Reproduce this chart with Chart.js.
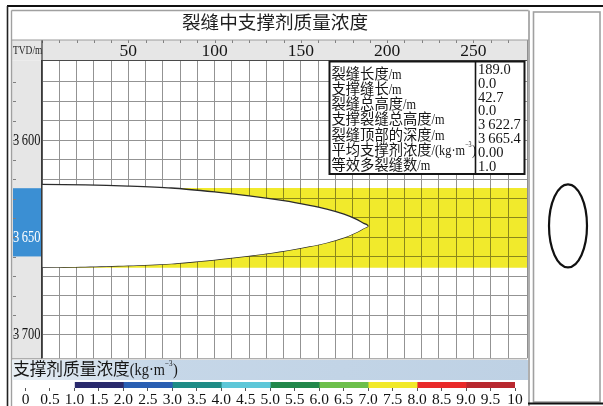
<!DOCTYPE html>
<html>
<head>
<meta charset="utf-8">
<script src="https://cdn.jsdelivr.net/npm/chart.js@4.4.0/dist/chart.umd.min.js"></script>
<style>
  html, body { margin: 0; padding: 0; background: #fff; }
  #wrap { position: relative; width: 603px; height: 406px; overflow: hidden; }
  #main { position: absolute; left: 0; top: 0; }
  #legendBar { position: absolute; left: 0; top: 360px; }
</style>
</head>
<body>
<div id="wrap">
  <canvas id="main" width="603" height="406"></canvas>
  <canvas id="legendBar" width="603" height="46"></canvas>
</div>
<script>
// ---- fracture geometry (length along fracture in m, true vertical depth in m) ----
const fractureLength = 189.0;
const fractureTop = 3622.7;
const fractureBottom = 3665.4;
const fracX     = [0, 25, 50, 75, 100, 120, 140, 155, 165, 175, 182, 186, 188.5, 189.0];
const fracUpper = [3622.7, 3623.0, 3623.6, 3624.6, 3626.6, 3628.6, 3631.1, 3633.5, 3635.4, 3638.0, 3640.6, 3642.6, 3643.6, 3644.05];
const fracLower = [3665.4, 3665.1, 3664.5, 3663.5, 3661.5, 3659.5, 3657.0, 3654.6, 3652.7, 3650.1, 3647.5, 3645.5, 3644.5, 3644.05];

// proppant concentration band (7.0-7.5 kg/m3 class)
const bandX      = [0, 281];
const bandTop    = [3624.6, 3624.6];
const bandBottom = [3665.6, 3665.6];

// perforated interval marked on the depth track
const perfInterval = [3624.7, 3659.8];

// axes
const xRange = [0, 281];
const depthRange = [3559, 3712.2];
const gridStep = 10;
const labelStep = 50;

// concentration colour scale
const colorBreaks = [0, 1, 2, 3, 4, 5, 6, 7, 8, 9, 10];
const colorFills  = ['#ffffff', '#2a2a6c', '#2a5fb2', '#1f8c86', '#5ec7d8',
                     '#22874a', '#6dbf4b', '#f1e92a', '#e92a2a', '#b8282f'];

// summary table
const fmtDepth = v => Math.floor(v / 1000) + '\u2009' + (v % 1000).toFixed(1).padStart(5, '0');
const infoLabels = ['裂缝长度/m', '支撑缝长/m', '裂缝总高度/m', '支撑裂缝总高度/m',
                    '裂缝顶部的深度/m', '平均支撑剂浓度/(kg·m⁻³)', '等效多裂缝数/m'];
const infoValues = [fractureLength.toFixed(1), '0.0', (fractureBottom - fractureTop).toFixed(1), '0.0',
                    fmtDepth(fractureTop), fmtDepth(fractureBottom), '0.00', '1.0'];

const MIX = '"Liberation Serif", "Noto Sans CJK SC", serif';
const yellowBand = '#f1ea2c';
const gridColor = '#939393';

const pts = (xs, ys) => xs.map((x, i) => ({ x: x, y: ys[i] }));
const depthLabel = v => Math.floor(v / 1000) + '\u2009' + String(v % 1000).padStart(3, '0');

function line(ctx, x1, y1, x2, y2, color, w) {
  ctx.save();
  ctx.strokeStyle = color; ctx.lineWidth = w;
  ctx.beginPath(); ctx.moveTo(x1, y1); ctx.lineTo(x2, y2); ctx.stroke();
  ctx.restore();
}

// label text: Chinese part at full width, the unit part in a narrow serif,
// with "⁻³" raised as a small exponent
function labelText(ctx, s, x, y, size) {
  const m = s.match(/^([^\/(]*)(.*)$/);
  const cjk = m[1], unit = m[2];
  ctx.font = size + 'px ' + MIX;
  ctx.fillText(cjk, x, y);
  let cx = x + ctx.measureText(cjk).width;
  const sup = unit.indexOf('⁻³');
  const parts = sup >= 0 ? [unit.slice(0, sup), '\u22123', unit.slice(sup + 2)] : [unit];
  parts.forEach((p, k) => {
    const isSup = k === 1;
    const fs = isSup ? size * 0.5 : size;
    ctx.save();
    ctx.translate(cx, isSup ? y - size * 0.4 : y);
    ctx.scale(0.86, 1);
    ctx.font = fs.toFixed(1) + 'px "Liberation Serif"';
    ctx.fillText(p, 0, 0);
    cx += ctx.measureText(p).width * 0.86 + (isSup ? 0.5 : 0);
    ctx.restore();
  });
}

const framePlugin = {
  id: 'frame',
  beforeDraw(chart) {
    const { ctx, chartArea: a, scales } = chart;
    ctx.save();
    ctx.fillStyle = '#ffffff';
    ctx.fillRect(0, 0, chart.width, chart.height);
    // axis bands
    ctx.fillStyle = '#e6e6e6';
    ctx.fillRect(12, 40, a.right - 12, a.top - 40);
    ctx.fillRect(12, a.top, a.left - 12, a.bottom - a.top);
    // perforated interval on the depth track
    const p1 = scales.y.getPixelForValue(perfInterval[0]);
    const p2 = scales.y.getPixelForValue(perfInterval[1]);
    ctx.fillStyle = '#3b8fd3';
    ctx.fillRect(13, p1, a.left - 14, p2 - p1);
    // small marks on the bands
    ctx.strokeStyle = '#808080'; ctx.lineWidth = 1;
    scales.x.ticks.forEach(t => {
      if (t.value % gridStep !== 0) return;
      const px = Math.round(scales.x.getPixelForValue(t.value)) + 0.5;
      ctx.beginPath(); ctx.moveTo(px, 40); ctx.lineTo(px, 43); ctx.stroke();
    });
    scales.y.ticks.forEach(t => {
      if (t.value % gridStep !== 0) return;
      const py = Math.round(scales.y.getPixelForValue(t.value)) + 0.5;
      ctx.beginPath(); ctx.moveTo(13, py); ctx.lineTo(16, py); ctx.stroke();
    });
    // title
    ctx.fillStyle = '#1e1e1e';
    ctx.font = '18.6px ' + MIX;
    ctx.textAlign = 'center'; ctx.textBaseline = 'middle';
    ctx.fillText('裂缝中支撑剂质量浓度', 275, 24);
    // TVD/m
    ctx.save();
    ctx.translate(13, 50.5);
    ctx.scale(0.82, 1);
    ctx.font = '11.5px "Liberation Serif"';
    ctx.textAlign = 'left';
    ctx.fillText('TVD/m', 0, 0);
    ctx.restore();
    ctx.restore();
  },
  beforeDatasetsDraw(chart) {
    // the proppant band is blended so the grid stays visible through it
    chart.ctx.globalCompositeOperation = 'multiply';
  },
  afterDatasetDraw(chart, args) {
    if (args.index === 2) chart.ctx.globalCompositeOperation = 'source-over';
  },
  afterDatasetsDraw(chart) {
    chart.ctx.globalCompositeOperation = 'source-over';
  },
  afterDraw(chart) {
    const { ctx, chartArea: a, scales } = chart;
    ctx.save();
    // depth labels (narrow serif)
    scales.y.ticks.forEach(t => {
      if (t.value % labelStep !== 0) return;
      const py = scales.y.getPixelForValue(t.value);
      const inPerf = t.value >= perfInterval[0] && t.value <= perfInterval[1];
      ctx.save();
      ctx.translate(a.left - 1.5, py + 0.5);
      ctx.scale(0.78, 1);
      ctx.font = '16px "Liberation Serif"';
      ctx.textAlign = 'right'; ctx.textBaseline = 'middle';
      ctx.fillStyle = inPerf ? '#ffffff' : '#161616';
      ctx.fillText(depthLabel(t.value), 0, 0);
      ctx.restore();
    });

    // plot frame
    line(ctx, a.left, 40, a.left, a.bottom, '#3a3a3a', 1.2);
    line(ctx, a.right + 0.5, 40, a.right + 0.5, a.bottom, '#8f8f8f', 1);
    line(ctx, 12, a.bottom + 0.5, a.right, a.bottom + 0.5, '#8f8f8f', 1);
    line(ctx, 12, 40, 529, 40, '#9c9c9c', 1.2);

    // summary table
    const tx = 329.5, ty = 61.5, tw = 195, th = 112.5, div = 475.5;
    ctx.fillStyle = '#ffffff';
    ctx.fillRect(tx, ty, tw, th);
    ctx.strokeStyle = '#151515'; ctx.lineWidth = 2;
    ctx.strokeRect(tx, ty, tw, th);
    line(ctx, div, ty, div, ty + th, '#151515', 1.6);
    ctx.fillStyle = '#151515';
    ctx.textAlign = 'left'; ctx.textBaseline = 'middle';
    infoLabels.forEach((s, i) => labelText(ctx, s, 331.5, 75 + i * 15.2, 14.3));
    ctx.font = '14.5px "Liberation Serif"';
    infoValues.forEach((s, i) => ctx.fillText(s, 478, 70.3 + i * 13.77));

    // outer frames
    line(ctx, 7, 6, 603, 6, '#111', 2);
    line(ctx, 7.5, 6, 7.5, 406, '#222', 1.6);
    line(ctx, 11.5, 10.5, 528.5, 10.5, '#a0a0a0', 1.4);
    line(ctx, 11.5, 10.5, 11.5, 406, '#a0a0a0', 1.4);
    line(ctx, 529, 10.5, 529, 406, '#9a9a9a', 1.6);
    ctx.strokeStyle = '#a0a0a0'; ctx.lineWidth = 1.6;
    ctx.strokeRect(533.5, 12, 66.5, 390);
    line(ctx, 528, 403.5, 603, 403.5, '#111', 2);

    // wellbore cross-section of the fracture
    const yt = scales.y.getPixelForValue(fracUpper[0]);
    const yb = scales.y.getPixelForValue(fracLower[0]);
    ctx.strokeStyle = '#111'; ctx.lineWidth = 2.2;
    ctx.beginPath();
    ctx.ellipse(568, (yt + yb) / 2, 19, (yb - yt) / 2, 0, 0, Math.PI * 2);
    ctx.stroke();
    ctx.restore();
  }
};

new Chart(document.getElementById('main'), {
  type: 'line',
  data: {
    datasets: [
      { label: 'fracture-upper', data: pts(fracX, fracUpper), borderColor: '#2b2b2b', borderWidth: 1.3,
        backgroundColor: '#ffffff', fill: '+1', pointRadius: 0, tension: 0.3 },
      { label: 'fracture-lower', data: pts(fracX, fracLower), borderColor: '#2b2b2b', borderWidth: 1.3,
        fill: false, pointRadius: 0, tension: 0.3 },
      { label: 'band-top', data: pts(bandX, bandTop), borderWidth: 0, borderColor: 'rgba(0,0,0,0)',
        backgroundColor: yellowBand, fill: '+1', pointRadius: 0 },
      { label: 'band-bottom', data: pts(bandX, bandBottom), borderWidth: 0, borderColor: 'rgba(0,0,0,0)',
        fill: false, pointRadius: 0 }
    ]
  },
  options: {
    responsive: false,
    animation: false,
    devicePixelRatio: 1,
    layout: { padding: { left: 12, top: 40, right: 76, bottom: 47.7 } },
    plugins: { legend: { display: false }, tooltip: { enabled: false } },
    scales: {
      x: {
        type: 'linear', position: 'top', min: xRange[0], max: xRange[1],
        ticks: {
          stepSize: gridStep, autoSkip: false, maxRotation: 0, padding: 0, color: '#161616',
          font: { family: 'Liberation Serif', size: 17.5, lineHeight: 1 },
          callback: v => (v > 0 && v % labelStep === 0) ? String(v) : ''
        },
        grid: { color: c => (c.tick && c.tick.value % gridStep === 0) ? gridColor : 'rgba(0,0,0,0)',
                lineWidth: 1, drawTicks: false },
        border: { color: '#4a4a4a', width: 1 },
        afterFit(s) { s.height = 20.5; }
      },
      y: {
        type: 'linear', reverse: true, min: depthRange[0], max: depthRange[1],
        ticks: { stepSize: gridStep, autoSkip: false, display: false },
        grid: { color: c => (c.tick && c.tick.value % gridStep === 0) ? gridColor : 'rgba(0,0,0,0)',
                lineWidth: 1, drawTicks: false },
        border: { color: '#3a3a3a', width: 1.2 },
        afterFit(s) { s.width = 30; }
      }
    }
  },
  plugins: [framePlugin]
});

// ---- concentration colour scale ----
const scaleBandPlugin = {
  id: 'scaleBand',
  beforeDraw(chart) {
    const ctx = chart.ctx;
    ctx.save();
    const g = ctx.createLinearGradient(12, 0, 528, 0);
    g.addColorStop(0, '#e8eef4');
    g.addColorStop(0.28, '#c6d7e8');
    g.addColorStop(1, '#bed1e4');
    ctx.fillStyle = g;
    ctx.fillRect(12, 0, 516, 20);
    ctx.fillStyle = '#161616';
    ctx.textBaseline = 'middle'; ctx.textAlign = 'left';
    labelText(ctx, '支撑剂质量浓度(kg·m⁻³)', 13, 11, 16.7);
    ctx.restore();
  }
};

new Chart(document.getElementById('legendBar'), {
  type: 'bar',
  data: {
    labels: ['c'],
    datasets: colorFills.map((c, i) => ({
      data: [[colorBreaks[i], colorBreaks[i + 1]]],
      backgroundColor: c, borderWidth: 0,
      barPercentage: 1, categoryPercentage: 1, grouped: false
    }))
  },
  options: {
    indexAxis: 'y',
    responsive: false,
    animation: false,
    devicePixelRatio: 1,
    layout: { padding: { left: 25.5, right: 88, top: 22, bottom: 0 } },
    plugins: { legend: { display: false }, tooltip: { enabled: false } },
    scales: {
      x: {
        type: 'linear', position: 'bottom', min: 0, max: 10,
        ticks: {
          stepSize: 0.5, autoSkip: false, maxRotation: 0, padding: 1, color: '#121212',
          font: { family: 'Liberation Serif', size: 15.5, lineHeight: 1 },
          callback: v => (v === 0 || v === 10) ? String(v) : v.toFixed(1)
        },
        grid: { drawOnChartArea: false, drawTicks: true, tickLength: 3, color: '#555' },
        border: { display: false },
        afterFit(s) { s.height = 18; }
      },
      y: { display: false }
    }
  },
  plugins: [scaleBandPlugin]
});
</script>
</body>
</html>
